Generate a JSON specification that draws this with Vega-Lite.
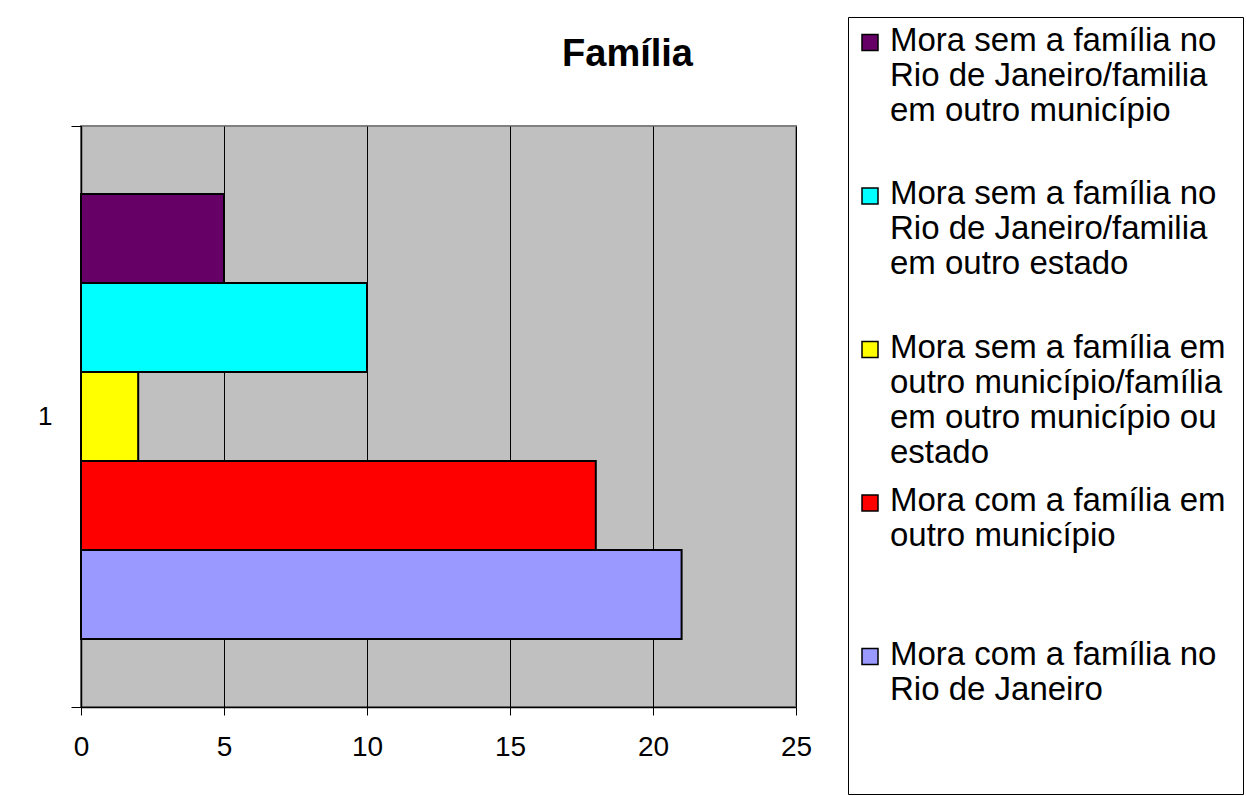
{
  "$schema": "https://vega.github.io/schema/vega-lite/v6.json",
  "width": 715,
  "height": 581,
  "autosize": {"type": "none"},
  "padding": {"left": 81, "top": 126, "right": 450, "bottom": 89},
  "background": "#ffffff",
  "title": {
    "text": "Família",
    "anchor": "middle",
    "frame": "group",
    "dx": 189,
    "dy": 87,
    "fontSize": 38,
    "fontWeight": "bold",
    "font": "Liberation Sans",
    "color": "#000000",
    "baseline": "alphabetic",
    "offset": 0
  },
  "data": {
    "values": [
      {"grupo": "1", "serie": "Mora sem a família no Rio de Janeiro/familia em outro município", "valor": 5},
      {"grupo": "1", "serie": "Mora sem a família no Rio de Janeiro/familia em outro estado", "valor": 10},
      {"grupo": "1", "serie": "Mora sem a família em outro município/família em outro município ou estado", "valor": 2},
      {"grupo": "1", "serie": "Mora com a família em outro município", "valor": 18},
      {"grupo": "1", "serie": "Mora com a família no Rio de Janeiro", "valor": 21}
    ]
  },
  "mark": {"type": "bar", "stroke": "#000000", "strokeWidth": 2},
  "encoding": {
    "x": {
      "field": "valor",
      "type": "quantitative",
      "scale": {"domain": [0, 25], "nice": false},
      "axis": {
        "title": null,
        "values": [0, 5, 10, 15, 20, 25],
        "grid": true,
        "gridColor": "#000000",
        "gridWidth": 1,
        "domainColor": "#000000",
        "domainWidth": 1.5,
        "tickColor": "#000000",
        "tickSize": 8,
        "labelFontSize": 28,
        "labelFont": "Liberation Sans",
        "labelColor": "#000000",
        "labelPadding": 18,
        "labelFlush": false
      }
    },
    "y": {
      "field": "grupo",
      "type": "nominal",
      "scale": {"paddingInner": 0, "paddingOuter": 0},
      "axis": {
        "title": null,
        "tickBand": "extent",
        "domainColor": "#000000",
        "domainWidth": 1.5,
        "tickColor": "#000000",
        "tickSize": 10,
        "labelFontSize": 26,
        "labelFont": "Liberation Sans",
        "labelColor": "#000000",
        "labelPadding": 19,
        "labelAngle": 0
      }
    },
    "yOffset": {
      "field": "serie",
      "type": "nominal",
      "sort": [
        "Mora sem a família no Rio de Janeiro/familia em outro município",
        "Mora sem a família no Rio de Janeiro/familia em outro estado",
        "Mora sem a família em outro município/família em outro município ou estado",
        "Mora com a família em outro município",
        "Mora com a família no Rio de Janeiro"
      ],
      "scale": {"paddingInner": 0, "paddingOuter": 0.764}
    },
    "fill": {
      "field": "serie",
      "type": "nominal",
      "sort": [
        "Mora sem a família no Rio de Janeiro/familia em outro município",
        "Mora sem a família no Rio de Janeiro/familia em outro estado",
        "Mora sem a família em outro município/família em outro município ou estado",
        "Mora com a família em outro município",
        "Mora com a família no Rio de Janeiro"
      ],
      "scale": {"range": ["#660066", "#00FFFF", "#FFFF00", "#FF0000", "#9999FF"]},
      "legend": {
        "title": null,
        "orient": "none",
        "legendX": 767,
        "legendY": -109,
        "strokeColor": "#000000",
        "fillColor": "#ffffff",
        "padding": 17,
        "rowPadding": 14.5,
        "symbolType": "M-2.4375,-2H-0.4375V0H-2.4375Z",
        "symbolSize": 256,
        "symbolStrokeColor": "#000000",
        "symbolStrokeWidth": 1.5,
        "symbolOpacity": 1,
        "labelFontSize": 33,
        "labelFont": "Liberation Sans",
        "labelColor": "#000000",
        "labelBaseline": "alphabetic",
        "labelOffset": -8,
        "labelLimit": 600,
        "labelExpr": "{'Mora sem a família no Rio de Janeiro/familia em outro município': ['Mora sem a família no', 'Rio de Janeiro/familia', 'em outro município', ''], 'Mora sem a família no Rio de Janeiro/familia em outro estado': ['Mora sem a família no', 'Rio de Janeiro/familia', 'em outro estado', ''], 'Mora sem a família em outro município/família em outro município ou estado': ['Mora sem a família em', 'outro município/família', 'em outro município ou', 'estado'], 'Mora com a família em outro município': ['Mora com a família em', 'outro município', '', ''], 'Mora com a família no Rio de Janeiro': ['Mora com a família no', 'Rio de Janeiro', '', '']}[datum.label]"
      }
    }
  },
  "config": {
    "view": {"fill": "#C0C0C0", "stroke": "#808080", "strokeWidth": 2},
    "font": "Liberation Sans"
  }
}
